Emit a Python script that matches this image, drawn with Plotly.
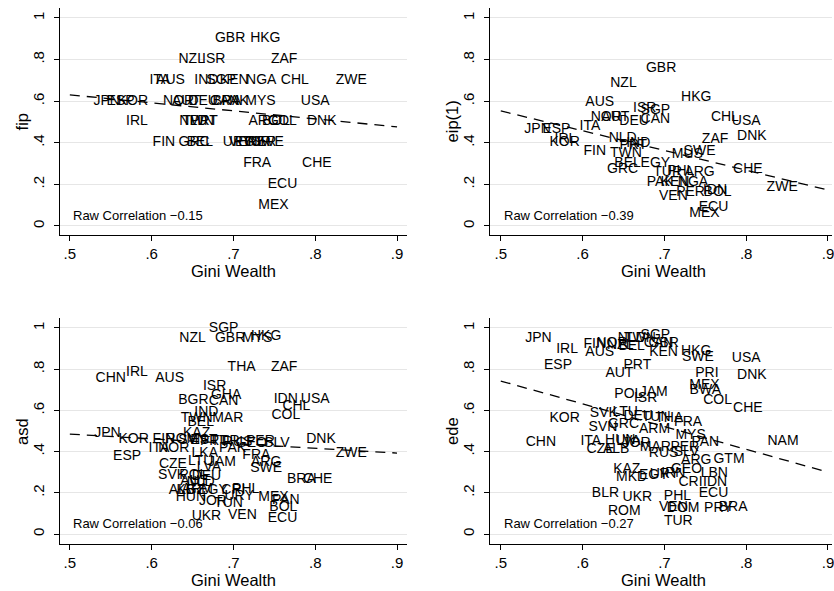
import plotly.graph_objects as go

# ---------------- data ----------------
# Panel 1: fip vs Gini wealth
fip_codes = ["GBR", "HKG", "NZL", "ISR", "ZAF",
             "ITA", "AUS", "IND", "SGP", "KEN", "NGA", "CHL", "ZWE",
             "JPN", "ESP", "KOR", "NOR", "AUT", "DEU", "CAN", "BRA", "PAK", "MYS", "USA",
             "IRL", "NLD", "TWN", "PRT", "ARG", "BOL", "COL", "DNK",
             "FIN", "GRC", "BEL", "URY", "VEN", "EGY", "TUR", "PER", "SWE",
             "FRA", "CHE", "ECU", "MEX"]
fip_gini = [0.696, 0.739, 0.649, 0.676, 0.762,
            0.610, 0.623, 0.667, 0.685, 0.701, 0.734, 0.775, 0.844,
            0.545, 0.562, 0.577, 0.633, 0.642, 0.663, 0.689, 0.692, 0.702, 0.733, 0.800,
            0.582, 0.651, 0.657, 0.664, 0.737, 0.752, 0.760, 0.808,
            0.615, 0.652, 0.659, 0.705, 0.712, 0.720, 0.728, 0.735, 0.742,
            0.729, 0.802, 0.760, 0.749]
fip_vals = [0.9, 0.9, 0.8, 0.8, 0.8,
            0.7, 0.7, 0.7, 0.7, 0.7, 0.7, 0.7, 0.7,
            0.6, 0.6, 0.6, 0.6, 0.6, 0.6, 0.6, 0.6, 0.6, 0.6, 0.6,
            0.5, 0.5, 0.5, 0.5, 0.5, 0.5, 0.5, 0.5,
            0.4, 0.4, 0.4, 0.4, 0.4, 0.4, 0.4, 0.4, 0.4,
            0.3, 0.3, 0.2, 0.1]

# Panel 2: eip(1) vs Gini wealth
eip_codes = ["GBR", "NZL", "HKG", "AUS", "ISR", "SGP", "NOR", "AUT", "DEU", "CAN",
             "CHL", "USA", "JPN", "ESP", "ITA", "DNK", "ZAF", "IRL", "KOR", "NLD",
             "PRT", "IND", "FIN", "TWN", "MUS", "SWE", "BEL", "EGY", "GRC", "TUR",
             "PHL", "ARG", "PAK", "KEN", "NGA", "IDN", "BOL", "PER", "VEN", "CHE",
             "ZWE", "ECU", "MEX"]
eip_gini = [0.696, 0.650, 0.739, 0.621, 0.676, 0.689, 0.629, 0.640, 0.663, 0.689,
            0.774, 0.800, 0.545, 0.568, 0.609, 0.807, 0.762, 0.579, 0.578, 0.649,
            0.662, 0.668, 0.615, 0.653, 0.728, 0.743, 0.655, 0.689, 0.649, 0.704,
            0.720, 0.743, 0.695, 0.713, 0.735, 0.762, 0.765, 0.732, 0.711, 0.802,
            0.844, 0.760, 0.749]
eip_vals = [0.755, 0.683, 0.617, 0.596, 0.563, 0.553, 0.524, 0.524, 0.500, 0.510,
            0.524, 0.500, 0.466, 0.466, 0.476, 0.428, 0.418, 0.418, 0.400, 0.423,
            0.385, 0.395, 0.356, 0.350, 0.346, 0.356, 0.300, 0.300, 0.270, 0.255,
            0.260, 0.255, 0.210, 0.207, 0.207, 0.173, 0.163, 0.163, 0.140, 0.274,
            0.183, 0.087, 0.058]

# Panel 3: asd vs Gini wealth
asd_codes = ["SGP", "NZL", "GBR", "MYS", "HKG", "THA", "ZAF", "CHN", "IRL", "AUS",
             "ISR", "GHA", "BGR", "CAN", "IDN", "USA", "CHL", "COL", "TWN", "IND",
             "BEL", "MAR", "JPN", "KOR", "FIN", "KAZ", "ROM", "SVN", "EST", "PRT",
             "TUR", "RUS", "GEO", "PER", "SLV", "ITA", "NOR", "ESP", "DNK", "ZWE",
             "LKA", "PAK", "FRA", "ARG", "SWE", "CZE", "LTU", "LVA", "JAM", "SVK",
             "POL", "DEU", "NLD", "AUT", "BRA", "CHE", "ALB", "KGZ", "ARM", "EGY",
             "CRI", "PHL", "HUN", "JOR", "TUN", "URY", "MEX", "PAN", "BOL", "UKR",
             "VEN", "ECU"]
asd_gini = [0.688, 0.650, 0.696, 0.729, 0.740, 0.710, 0.762, 0.550, 0.582, 0.622,
            0.677, 0.691, 0.651, 0.688, 0.764, 0.800, 0.777, 0.764, 0.655, 0.667,
            0.660, 0.693, 0.546, 0.578, 0.615, 0.655, 0.637, 0.650, 0.664, 0.676,
            0.690, 0.705, 0.722, 0.733, 0.753, 0.609, 0.627, 0.570, 0.807, 0.844,
            0.665, 0.699, 0.728, 0.740, 0.740, 0.626, 0.660, 0.670, 0.686, 0.625,
            0.651, 0.667, 0.660, 0.652, 0.783, 0.803, 0.637, 0.648, 0.656, 0.675,
            0.700, 0.715, 0.648, 0.675, 0.694, 0.707, 0.749, 0.764, 0.761, 0.667,
            0.711, 0.760]
asd_vals = [1.000, 0.947, 0.947, 0.947, 0.961, 0.810, 0.810, 0.757, 0.786, 0.757,
            0.718, 0.670, 0.650, 0.641, 0.655, 0.655, 0.617, 0.573, 0.563, 0.592,
            0.539, 0.563, 0.490, 0.461, 0.461, 0.490, 0.458, 0.452, 0.455, 0.448,
            0.450, 0.445, 0.440, 0.450, 0.440, 0.417, 0.417, 0.374, 0.461, 0.393,
            0.393, 0.417, 0.383, 0.345, 0.320, 0.335, 0.350, 0.325, 0.345, 0.286,
            0.286, 0.280, 0.250, 0.255, 0.267, 0.267, 0.213, 0.210, 0.215, 0.213,
            0.210, 0.215, 0.175, 0.160, 0.150, 0.180, 0.175, 0.165, 0.131, 0.083,
            0.092, 0.073]

# Panel 4: ede vs Gini wealth
ede_codes = ["JPN", "IRL", "FIN", "NOR", "NZL", "NLD", "BEL", "TWN", "CAN", "SGP",
             "GBR", "KEN", "AUS", "HKG", "SWE", "USA", "ESP", "PRT", "AUT", "PRI",
             "DNK", "MEX", "BWA", "JAM", "POL", "ISR", "COL", "CHE", "KOR", "SVK",
             "LTU", "DEU", "TUN", "THA", "FRA", "SVN", "GRC", "ARM", "MYS", "CHN",
             "ITA", "HUN", "LVA", "JOR", "CZE", "ALB", "MAR", "PER", "PAN", "SLV",
             "RUS", "GTM", "ARG", "NAM", "KAZ", "MKD", "EGY", "URY", "IRN", "GEO",
             "LBN", "CRI", "IDN", "ECU", "BLR", "UKR", "PHL", "VEN", "DOM", "PRY",
             "BRA", "ROM", "TUR"]
ede_gini = [0.546, 0.581, 0.615, 0.636, 0.646, 0.660, 0.660, 0.670, 0.693, 0.689,
            0.699, 0.699, 0.621, 0.739, 0.741, 0.800, 0.570, 0.667, 0.645, 0.752,
            0.807, 0.749, 0.750, 0.687, 0.656, 0.677, 0.765, 0.802, 0.578, 0.626,
            0.652, 0.668, 0.690, 0.706, 0.729, 0.625, 0.650, 0.688, 0.732, 0.549,
            0.610, 0.646, 0.656, 0.666, 0.622, 0.641, 0.689, 0.725, 0.750, 0.727,
            0.699, 0.779, 0.739, 0.845, 0.654, 0.660, 0.687, 0.700, 0.711, 0.727,
            0.761, 0.732, 0.762, 0.760, 0.628, 0.667, 0.716, 0.711, 0.723, 0.766,
            0.784, 0.651, 0.717]
ede_vals = [0.951, 0.898, 0.922, 0.927, 0.917, 0.951, 0.908, 0.947, 0.927, 0.966,
            0.927, 0.879, 0.879, 0.888, 0.859, 0.854, 0.820, 0.820, 0.777, 0.777,
            0.767, 0.723, 0.699, 0.689, 0.675, 0.660, 0.646, 0.607, 0.563, 0.587,
            0.592, 0.570, 0.565, 0.560, 0.539, 0.519, 0.534, 0.505, 0.480, 0.442,
            0.447, 0.452, 0.450, 0.440, 0.408, 0.408, 0.422, 0.422, 0.442, 0.398,
            0.393, 0.364, 0.359, 0.447, 0.311, 0.272, 0.286, 0.290, 0.296, 0.311,
            0.296, 0.252, 0.252, 0.199, 0.199, 0.175, 0.180, 0.131, 0.126, 0.126,
            0.131, 0.107, 0.063]

# Linear fits (intercept, slope) and the x-span they are drawn over
fit_span = [0.5, 0.9]
fip_fit = [0.823, -0.385]
eip_fit = [1.028, -0.950]
asd_fit = [0.600, -0.230]
ede_fit = [1.295, -1.105]

raw_corr = ["Raw Correlation \u22120.15", "Raw Correlation \u22120.39",
            "Raw Correlation \u22120.06", "Raw Correlation \u22120.27"]
y_titles = ["fip", "eip(1)", "asd", "ede"]
x_title = "Gini Wealth"

x_ticks = [0.5, 0.6, 0.7, 0.8, 0.9]
x_ticktext = [".5", ".6", ".7", ".8", ".9"]
y_ticks = [0, 0.2, 0.4, 0.6, 0.8, 1.0]
y_ticktext = ["0", ".2", ".4", ".6", ".8", "1"]

# ---------------- layout geometry (pixels) ----------------
W, H = 834, 591
FONT = "Liberation Sans, Arial, Helvetica, sans-serif"

panels = [
    dict(codes=fip_codes, x=fip_gini, y=fip_vals, fit=fip_fit,
         px=(60, 408), py=(8, 235), xr=(0.4878, 0.9122), yr=(-0.0433, 1.048)),
    dict(codes=eip_codes, x=eip_gini, y=eip_vals, fit=eip_fit,
         px=(491, 834), py=(8, 235), xr=(0.4866, 0.9049), yr=(-0.0433, 1.048)),
    dict(codes=asd_codes, x=asd_gini, y=asd_vals, fit=asd_fit,
         px=(60, 408), py=(318, 544), xr=(0.4878, 0.9122), yr=(-0.0485, 1.0485)),
    dict(codes=ede_codes, x=ede_gini, y=ede_vals, fit=ede_fit,
         px=(491, 834), py=(318, 544), xr=(0.4866, 0.9049), yr=(-0.0485, 1.0485)),
]

fig = go.Figure()
annotations = []
layout_axes = {}

for i, p in enumerate(panels, start=1):
    xa = "x" if i == 1 else f"x{i}"
    ya = "y" if i == 1 else f"y{i}"
    xkey = "xaxis" if i == 1 else f"xaxis{i}"
    ykey = "yaxis" if i == 1 else f"yaxis{i}"

    # fitted line
    b0, b1 = p["fit"]
    fig.add_trace(go.Scatter(
        x=fit_span, y=[b0 + b1 * v for v in fit_span], mode="lines",
        line=dict(color="black", width=1.3, dash="10px,7px"),
        xaxis=xa, yaxis=ya, hoverinfo="skip", showlegend=False))

    # country labels centred on their points
    fig.add_trace(go.Scatter(
        x=p["x"], y=p["y"], mode="text", text=p["codes"],
        textposition="middle center",
        textfont=dict(family=FONT, size=14, color="black"),
        xaxis=xa, yaxis=ya, showlegend=False))

    x0, x1 = p["px"]
    y0, y1 = p["py"]
    layout_axes[xkey] = dict(
        domain=[x0 / W, min(x1 / W, 1.0)], range=list(p["xr"]), anchor=ya,
        tickvals=x_ticks, ticktext=x_ticktext, ticks="outside", ticklen=5,
        tickcolor="black", tickwidth=1, showline=True, linecolor="black",
        linewidth=1, showgrid=False, zeroline=False, ticklabeloverflow="allow",
        tickfont=dict(family=FONT, size=15, color="black"))
    layout_axes[ykey] = dict(
        domain=[1 - y1 / H, 1 - y0 / H], range=list(p["yr"]), anchor=xa,
        tickvals=y_ticks, ticktext=y_ticktext, ticks="outside", ticklen=5,
        tickcolor="black", tickwidth=1, showline=True, linecolor="black",
        linewidth=1, showgrid=True, gridcolor="#e6e6e6", gridwidth=1.3,
        zeroline=False, tickangle=-90, ticklabelstandoff=4,
        tickfont=dict(family=FONT, size=15, color="black"))

    # correlation note in the lower-left corner
    annotations.append(dict(
        x=0.502, y=0.052, xref=xa, yref=ya, text=raw_corr[i - 1],
        showarrow=False, xanchor="left", yanchor="middle",
        font=dict(family=FONT, size=13, color="black")))

    # axis titles
    annotations.append(dict(
        x=(x0 - 38) / W, y=1 - ((y0 + y1) / 2) / H, xref="paper", yref="paper",
        text=y_titles[i - 1], showarrow=False, textangle=-90,
        xanchor="center", yanchor="middle",
        font=dict(family=FONT, size=16.5, color="black")))
    annotations.append(dict(
        x=(x0 + 10 + 0.2 * 820) / W, y=1 - (y1 + 36) / H,
        xref="paper", yref="paper", text=x_title, showarrow=False,
        xanchor="center", yanchor="middle",
        font=dict(family=FONT, size=16.5, color="black")))

fig.update_layout(
    width=W, height=H, margin=dict(l=0, r=0, t=0, b=0),
    paper_bgcolor="white", plot_bgcolor="white",
    annotations=annotations, **layout_axes)

fig.write_html("out.html")
